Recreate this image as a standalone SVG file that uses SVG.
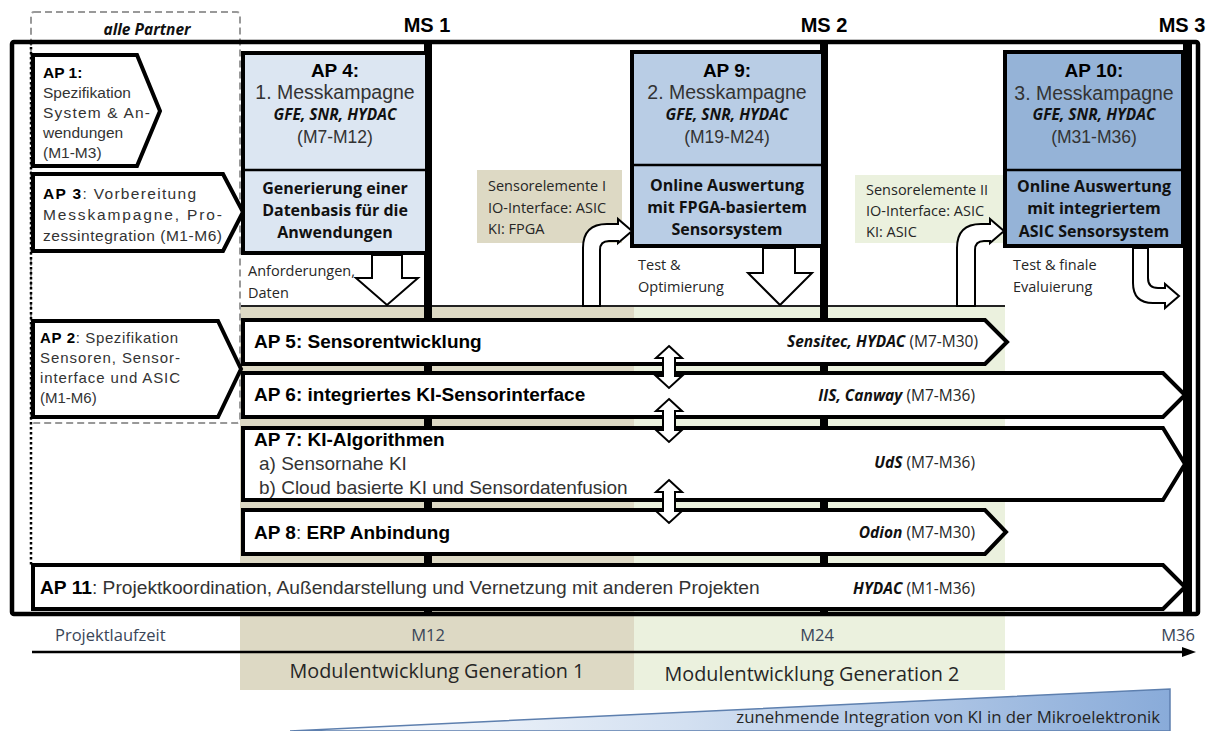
<svg xmlns="http://www.w3.org/2000/svg" width="1209" height="731" viewBox="0 0 1209 731">
  <defs>
    <linearGradient id="kiGrad" x1="0" y1="0" x2="1" y2="0">
      <stop offset="0" stop-color="#ffffff"/>
      <stop offset="0.45" stop-color="#d3e0f1"/>
      <stop offset="1" stop-color="#89abd9"/>
    </linearGradient>
    <style>
      .ap { font-family: "Liberation Sans", Arial, sans-serif; fill: #333; }
      .apb { font-family: "Liberation Sans", Arial, sans-serif; font-weight: bold; fill: #000; }
      .cal { font-family: "Open Sans", "Liberation Sans", sans-serif; fill: #262626; }
      .calb { font-family: "Open Sans", "Liberation Sans", sans-serif; font-weight: bold; fill: #111; }
      .partner { font-family: "Open Sans", "Liberation Sans", sans-serif; font-weight: bold; font-style: italic; fill: #111; }
      .tl { font-family: "Open Sans", "Liberation Sans", sans-serif; fill: #3a4658; }
      .row { fill: #fff; stroke: #000; stroke-width: 4; stroke-linejoin: miter; }
      .blk { fill: #fff; stroke: #000; stroke-width: 2; stroke-linejoin: miter; }
      .box { stroke: #000; stroke-width: 4; }
      .ms { fill: #000; }
    </style>
  </defs>

  <!-- phase bands -->
  <rect x="240" y="306" width="394" height="384" fill="#ddd9c4"/>
  <rect x="634" y="306" width="371" height="384" fill="#ebf1de"/>
  <line x1="240" y1="306" x2="1005" y2="306" stroke="#222" stroke-width="2"/>

  <!-- partner frame -->
  <rect x="31" y="12" width="209" height="411" rx="3" fill="none" stroke="#999" stroke-width="2" stroke-dasharray="7,4"/>
  <line x1="31" y1="42" x2="31" y2="566" stroke="#000" stroke-width="2.5" stroke-dasharray="2.5,2.5"/>
  <text x="147" y="35" text-anchor="middle" class="partner" font-size="15.5">alle Partner</text>

  <!-- outer frame and milestones -->
  <rect x="12" y="42" width="1186" height="572" rx="2" fill="none" stroke="#000" stroke-width="4.5"/>
  <rect x="424" y="42" width="8" height="572" class="ms"/>
  <rect x="820" y="42" width="8" height="572" class="ms"/>
  <rect x="1183" y="42" width="9" height="572" class="ms"/>
  <text x="427" y="32" text-anchor="middle" class="apb" font-size="20">MS 1</text>
  <text x="824" y="32" text-anchor="middle" class="apb" font-size="20">MS 2</text>
  <text x="1182" y="32" text-anchor="middle" class="apb" font-size="20">MS 3</text>

  <!-- AP 1 -->
  <g id="ap1">
    <polygon class="row" points="33,55 137,55 160,111 137,166 33,166"/>
    <text x="43" y="78" class="apb" font-size="15.5">AP  1:</text>
    <text x="43" y="98" class="ap" font-size="15.5">Spezifikation</text>
    <text x="43" y="118" class="ap" font-size="15.5" textLength="107" lengthAdjust="spacing">System &amp; An-</text>
    <text x="43" y="138" class="ap" font-size="15.5">wendungen</text>
    <text x="43" y="158" class="ap" font-size="15.5">(M1-M3)</text>
  </g>

  <!-- AP 3 -->
  <g id="ap3">
    <polygon class="row" points="33,174 223,174 243,212 223,251 33,251"/>
    <text x="43" y="199" class="ap" font-size="15.5" textLength="153" lengthAdjust="spacing"><tspan class="apb">AP 3</tspan>: Vorbereitung</text>
    <text x="43" y="220" class="ap" font-size="15.5" textLength="179" lengthAdjust="spacing">Messkampagne,  Pro-</text>
    <text x="43" y="241" class="ap" font-size="15.5" textLength="179" lengthAdjust="spacing">zessintegration  (M1-M6)</text>
  </g>

  <!-- AP 2 -->
  <g id="ap2">
    <polygon class="row" points="33,321 218,321 241,369 218,417 33,417"/>
    <text x="40" y="343" class="ap" font-size="15" textLength="138" lengthAdjust="spacing"><tspan class="apb">AP  2</tspan>: Spezifikation</text>
    <text x="40" y="363" class="ap" font-size="15" textLength="140" lengthAdjust="spacing">Sensoren,  Sensor-</text>
    <text x="40" y="383" class="ap" font-size="15" textLength="140" lengthAdjust="spacing">interface  und  ASIC</text>
    <text x="40" y="403" class="ap" font-size="15">(M1-M6)</text>
  </g>

  <!-- work package rows -->
  <g id="ap5">
    <polygon class="row" points="243,320 985,320 1007,342 985,364 243,364"/>
    <text x="254" y="348" class="apb" font-size="19">AP 5: Sensorentwicklung</text>
    <text x="978" y="347" text-anchor="end" class="cal" font-size="15.5"><tspan class="partner">Sensitec, HYDAC </tspan>(M7-M30)</text>
  </g>
  <g id="ap6">
    <polygon class="row" points="243,373 1163,373 1185,395 1163,417 243,417"/>
    <text x="254" y="401" class="apb" font-size="19">AP 6: integriertes KI-Sensorinterface</text>
    <text x="975" y="401" text-anchor="end" class="cal" font-size="15.5"><tspan class="partner">IIS, Canway </tspan>(M7-M36)</text>
  </g>
  <g id="ap7">
    <polygon class="row" points="243,428 1163,428 1185,464 1163,500 243,500"/>
    <text x="254" y="446" class="apb" font-size="19">AP 7: KI-Algorithmen</text>
    <text x="259" y="470" class="ap" font-size="19">a) Sensornahe KI</text>
    <text x="259" y="494" class="ap" font-size="19">b) Cloud basierte KI und Sensordatenfusion</text>
    <text x="975" y="468" text-anchor="end" class="cal" font-size="15.5"><tspan class="partner">UdS </tspan>(M7-M36)</text>
  </g>
  <g id="ap8">
    <polygon class="row" points="243,510 985,510 1006,532 985,554 243,554"/>
    <text x="254" y="539" class="apb" font-size="19">AP 8<tspan class="ap" font-weight="normal" fill="#000">:</tspan> ERP Anbindung</text>
    <text x="975" y="538" text-anchor="end" class="cal" font-size="15.5"><tspan class="partner">Odion </tspan>(M7-M30)</text>
  </g>
  <g id="ap11">
    <polygon class="row" points="33,565 1163,565 1185,587 1163,609 33,609"/>
    <text x="40" y="594" class="ap" font-size="19.2" fill="#111"><tspan class="apb">AP 11</tspan>: Projektkoordination, Außendarstellung und Vernetzung mit anderen Projekten</text>
    <text x="975" y="594" text-anchor="end" class="cal" font-size="15.5"><tspan class="partner">HYDAC </tspan>(M1-M36)</text>
  </g>

  <!-- info boxes -->
  <g id="gen1-info">
    <rect x="477" y="170" width="145" height="73" fill="#ddd9c4"/>
    <text x="488" y="191" class="cal" font-size="14.5" fill="#404040">Sensorelemente I</text>
    <text x="488" y="213" class="cal" font-size="14.5" fill="#404040">IO-Interface: ASIC</text>
    <text x="488" y="234" class="cal" font-size="14.5" fill="#404040">KI: FPGA</text>
  </g>
  <g id="gen2-info">
    <rect x="855" y="175" width="148" height="68" fill="#ebf1de"/>
    <text x="866" y="195" class="cal" font-size="14.5" fill="#404040">Sensorelemente II</text>
    <text x="866" y="216" class="cal" font-size="14.5" fill="#404040">IO-Interface: ASIC</text>
    <text x="866" y="237" class="cal" font-size="14.5" fill="#404040">KI: ASIC</text>
  </g>

  <!-- AP 4 -->
  <g id="ap4">
    <rect x="243" y="53" width="184" height="200" fill="#dce6f2" class="box"/>
    <line x1="243" y1="170" x2="427" y2="170" stroke="#000" stroke-width="2.5"/>
    <text x="335" y="77" text-anchor="middle" class="apb" font-size="19">AP 4:</text>
    <text x="335" y="99" text-anchor="middle" class="ap" font-size="19.5">1. Messkampagne</text>
    <text x="335" y="120" text-anchor="middle" class="partner" font-size="15.5">GFE, SNR, HYDAC</text>
    <text x="335" y="143" text-anchor="middle" class="ap" font-size="17.5">(M7-M12)</text>
    <text x="335" y="194" text-anchor="middle" class="calb" font-size="16">Generierung einer</text>
    <text x="335" y="216" text-anchor="middle" class="calb" font-size="16">Datenbasis für die</text>
    <text x="335" y="238" text-anchor="middle" class="calb" font-size="16">Anwendungen</text>
  </g>

  <!-- AP 9 -->
  <g id="ap9">
    <rect x="632" y="52" width="191" height="194" fill="#b9cde5" class="box"/>
    <line x1="632" y1="165" x2="823" y2="165" stroke="#000" stroke-width="2.5"/>
    <text x="727" y="77" text-anchor="middle" class="apb" font-size="19">AP 9:</text>
    <text x="727" y="99" text-anchor="middle" class="ap" font-size="19.5">2. Messkampagne</text>
    <text x="727" y="120" text-anchor="middle" class="partner" font-size="15.5">GFE, SNR, HYDAC</text>
    <text x="727" y="143" text-anchor="middle" class="ap" font-size="17.5">(M19-M24)</text>
    <text x="727" y="191" text-anchor="middle" class="calb" font-size="16">Online Auswertung</text>
    <text x="727" y="213" text-anchor="middle" class="calb" font-size="16">mit FPGA-basiertem</text>
    <text x="727" y="235" text-anchor="middle" class="calb" font-size="16">Sensorsystem</text>
  </g>

  <!-- AP 10 -->
  <g id="ap10">
    <rect x="1005" y="52" width="178" height="194" fill="#95b3d7" class="box"/>
    <line x1="1005" y1="170" x2="1183" y2="170" stroke="#000" stroke-width="2.5"/>
    <text x="1094" y="77" text-anchor="middle" class="apb" font-size="19">AP 10:</text>
    <text x="1094" y="100" text-anchor="middle" class="ap" font-size="19.5">3. Messkampagne</text>
    <text x="1094" y="120" text-anchor="middle" class="partner" font-size="15.5">GFE, SNR, HYDAC</text>
    <text x="1094" y="143" text-anchor="middle" class="ap" font-size="17.5">(M31-M36)</text>
    <text x="1094" y="192" text-anchor="middle" class="calb" font-size="16">Online Auswertung</text>
    <text x="1094" y="214" text-anchor="middle" class="calb" font-size="16">mit integriertem</text>
    <text x="1094" y="237" text-anchor="middle" class="calb" font-size="16">ASIC Sensorsystem</text>
  </g>

  <!-- connectors -->
  <g id="connectors">
    <polygon class="blk" points="372,255 402,255 402,278 418,278 387,305 356,278 372,278"/>
    <polygon class="blk" points="763,248 795,248 795,273 812,273 780,305 748,273 763,273"/>
    <path class="blk" d="M583,306 V248 Q583,224 607,224 H618 V219 L632,231 L618,243 V241 H609 Q600,241 600,250 V306 Z"/>
    <path class="blk" d="M957,306 V248 Q957,224 981,224 H990 V219 L1004,231 L990,243 V241 H984 Q975,241 975,250 V306 Z"/>
    <path class="blk" d="M1133,248 V283 Q1133,303 1153,303 H1165 V308 L1179,296 L1165,284 V288 H1158 Q1148,288 1148,278 V248 Z"/>
    <polygon class="blk" points="669,346 682,358 675,358 675,376 682,376 669,388 656,376 663,376 663,358 656,358"/>
    <polygon class="blk" points="669,399 682,411 675,411 675,430 682,430 669,442 656,430 663,430 663,411 656,411"/>
    <polygon class="blk" points="669,480 682,492 675,492 675,511 682,511 669,523 656,511 663,511 663,492 656,492"/>
  </g>

  <!-- flow labels -->
  <text x="248" y="276" class="cal" font-size="14.5">Anforderungen,</text>
  <text x="248" y="298" class="cal" font-size="14.5">Daten</text>
  <text x="638" y="270" class="cal" font-size="14.5">Test &amp;</text>
  <text x="638" y="292" class="cal" font-size="14.5">Optimierung</text>
  <text x="1013" y="270" class="cal" font-size="14.5">Test &amp; finale</text>
  <text x="1013" y="292" class="cal" font-size="14.5">Evaluierung</text>

  <!-- timeline -->
  <g id="timeline">
    <text x="55" y="641" class="tl" font-size="16.5">Projektlaufzeit</text>
    <text x="428" y="641" text-anchor="middle" class="tl" font-size="16.5">M12</text>
    <text x="817" y="641" text-anchor="middle" class="tl" font-size="16.5">M24</text>
    <text x="1178" y="641" text-anchor="middle" class="tl" font-size="16.5">M36</text>
    <line x1="32" y1="652" x2="1184" y2="652" stroke="#000" stroke-width="2.5"/>
    <polygon points="1182,647 1196,652 1182,657" fill="#000"/>
    <text x="437" y="678" text-anchor="middle" class="cal" font-size="19.8" fill="#222">Modulentwicklung Generation 1</text>
    <text x="812" y="681" text-anchor="middle" class="cal" font-size="19.8" fill="#222">Modulentwicklung Generation 2</text>
  </g>

  <!-- KI integration wedge -->
  <g id="ki-wedge">
    <polygon points="290,731 1170,689 1170,731" fill="url(#kiGrad)" stroke="#5d7fae" stroke-width="1.5"/>
    <text x="1160" y="723" text-anchor="end" class="cal" font-size="16.8" fill="#222">zunehmende Integration von KI in der Mikroelektronik</text>
  </g>
</svg>
